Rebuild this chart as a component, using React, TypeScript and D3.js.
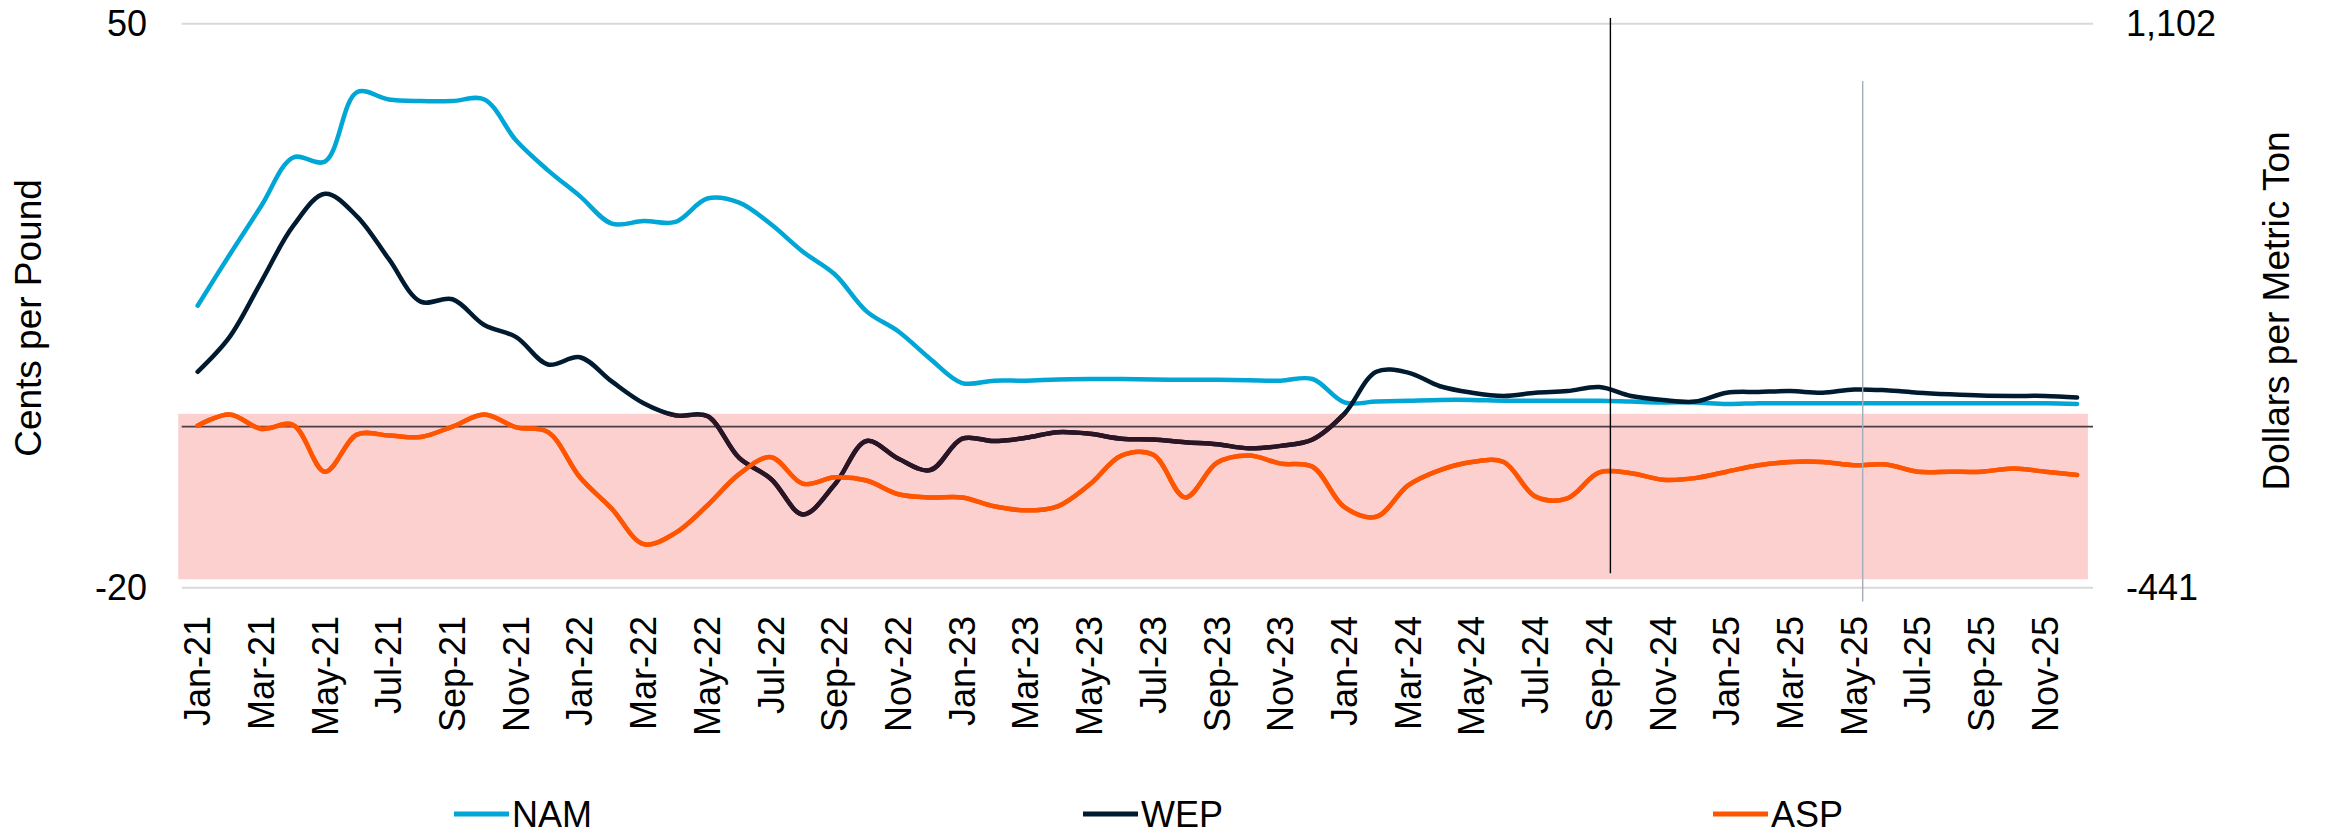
import React from "react";
import * as d3 from "d3";

// ---------- data ----------
const xTickLabels = [
  "Jan-21", "Mar-21", "May-21", "Jul-21", "Sep-21", "Nov-21",
  "Jan-22", "Mar-22", "May-22", "Jul-22", "Sep-22", "Nov-22",
  "Jan-23", "Mar-23", "May-23", "Jul-23", "Sep-23", "Nov-23",
  "Jan-24", "Mar-24", "May-24", "Jul-24", "Sep-24", "Nov-24",
  "Jan-25", "Mar-25", "May-25", "Jul-25", "Sep-25", "Nov-25",
];

// monthly values, Jan-21 .. Dec-25 (cents per pound)
const nam = [
  15.0, 21.3, 27.4, 33.4, 32.9, 41.5, 40.6, 40.4, 40.4, 40.6,
  35.5, 31.8, 28.6, 25.2, 25.5, 25.4, 28.3, 27.8, 25.1, 21.7,
  18.9, 14.3, 11.8, 8.4, 5.4, 5.7, 5.7, 5.85, 5.9, 5.9,
  5.85, 5.8, 5.8, 5.75, 5.7, 5.9, 3.0, 3.1, 3.2, 3.3,
  3.3, 3.2, 3.2, 3.2, 3.2, 3.1, 3.0, 3.0, 2.8, 2.9,
  2.9, 2.9, 2.9, 2.9, 2.9, 2.9, 2.9, 2.9, 2.9, 2.8,
];
const wep = [
  6.8, 11.1, 18.0, 24.9, 28.9, 26.1, 20.8, 15.5, 15.8, 12.6,
  11.1, 7.7, 8.6, 5.6, 2.9, 1.4, 1.3, -3.9, -6.5, -10.9,
  -7.2, -1.8, -4.0, -5.4, -1.5, -1.8, -1.4, -0.7, -0.9, -1.5,
  -1.6, -1.95, -2.2, -2.7, -2.4, -1.6, 1.6, 6.8, 6.7, 5.0,
  4.2, 3.8, 4.2, 4.4, 4.9, 3.8, 3.3, 3.1, 4.2, 4.3,
  4.4, 4.2, 4.6, 4.5, 4.2, 4.0, 3.85, 3.8, 3.8, 3.6,
];
const asp = [
  0.1, 1.5, -0.3, 0.2, -5.6, -1.0, -1.1, -1.3, 0.0, 1.5,
  -0.1, -0.7, -6.3, -10.2, -14.6, -13.2, -9.8, -5.9, -3.8, -7.1,
  -6.3, -6.7, -8.4, -8.8, -8.8, -9.9, -10.4, -9.9, -7.2, -3.6,
  -3.5, -8.8, -4.5, -3.6, -4.6, -5.0, -10.0, -11.2, -7.3, -5.4,
  -4.4, -4.4, -8.7, -8.9, -5.7, -5.8, -6.6, -6.4, -5.6, -4.8,
  -4.4, -4.4, -4.8, -4.7, -5.6, -5.6, -5.6, -5.2, -5.6, -6.0,
];

const leftTicks = [50, -20];
const rightTicks = [1102, -441];

// shaded band (cents per pound) and its month-index extent
const bandRange = [-18.95, 1.58];
const bandMonths = [-0.61, 59.34];

// vertical marker lines: month index, top value, bottom value
const markers = [
  { pos: 44.35, top: 50.7, bottom: -18.2, color: "#000000", width: 1.4 },
  { pos: 52.27, top: 42.9, bottom: -21.7, color: "#A3AEB8", width: 1.4 },
];

const series = [
  { name: "NAM", values: nam, color: "#00A6D6" },
  { name: "WEP", values: wep, color: "#001A30" },
  { name: "ASP", values: asp, color: "#FF5500" },
];

// ---------- layout ----------
const W = 2327;
const H = 835;
const M = { left: 181.7, right: 2093, top: 23.7, bottom: 587.7 };
const FONT = "'Liberation Sans', Arial, Helvetica, sans-serif";

export default function App() {
  const x = d3.scaleLinear().domain([-0.5, nam.length - 0.5]).range([M.left, M.right]);
  const yL = d3.scaleLinear().domain([-20, 50]).range([M.bottom, M.top]);
  const yR = d3.scaleLinear().domain([-441, 1102]).range([M.bottom, M.top]);
  const fmt = (v: number) => d3.format(",")(v).replace("\u2212", "-");

  const lineGen = d3
    .line<number>()
    .x((_, i) => x(i))
    .y((v) => yL(v))
    .curve(d3.curveCatmullRom.alpha(0.5));

  const bandX0 = x(bandMonths[0]);
  const bandX1 = x(bandMonths[1]);
  const bandY0 = yL(bandRange[1]);
  const bandY1 = yL(bandRange[0]);

  const legendX = [454, 1083, 1713];
  const legendY = 814;

  return (
    <svg
      width={W}
      height={H}
      style={{ position: "absolute", left: 0, top: 0, background: "#fff" }}
      fontFamily={FONT}
    >
      <defs>
        <clipPath id="bandClip">
          <rect x={bandX0} y={bandY0} width={bandX1 - bandX0} height={bandY1 - bandY0} />
        </clipPath>
      </defs>

      {/* gridlines */}
      {leftTicks.map((t) => (
        <line key={t} x1={M.left} x2={M.right} y1={yL(t)} y2={yL(t)} stroke="#D9D9D9" strokeWidth={2} />
      ))}

      {/* shaded band */}
      <rect x={bandX0} y={bandY0} width={bandX1 - bandX0} height={bandY1 - bandY0} fill="#FDD0D0" />

      {/* zero line */}
      <line x1={M.left} x2={M.right} y1={yL(0)} y2={yL(0)} stroke="#4A3E44" strokeWidth={1.7} />

      {/* series */}
      {series.map((s) => (
        <path
          key={s.name}
          d={lineGen(s.values) || ""}
          fill="none"
          stroke={s.color}
          strokeWidth={4.5}
          strokeLinecap="round"
          strokeLinejoin="round"
        />
      ))}
      {/* WEP tinted where it crosses the band */}
      <path
        d={lineGen(wep) || ""}
        fill="none"
        stroke="#2B1524"
        strokeWidth={4.5}
        strokeLinecap="round"
        clipPath="url(#bandClip)"
      />
      {/* ASP redrawn on top */}
      <path d={lineGen(asp) || ""} fill="none" stroke="#FF5500" strokeWidth={4.5} strokeLinecap="round" strokeLinejoin="round" />

      {/* marker lines */}
      {markers.map((m, i) => (
        <line
          key={i}
          x1={x(m.pos)}
          x2={x(m.pos)}
          y1={yL(m.top)}
          y2={yL(m.bottom)}
          stroke={m.color}
          strokeWidth={m.width}
        />
      ))}

      {/* left axis ticks */}
      {leftTicks.map((t) => (
        <text key={t} x={147} y={yL(t)} dy="0.35em" textAnchor="end" fontSize={36} fill="#000">
          {fmt(t)}
        </text>
      ))}
      {/* right axis ticks */}
      {rightTicks.map((t) => (
        <text key={t} x={2126} y={yR(t)} dy="0.35em" textAnchor="start" fontSize={36} fill="#000">
          {fmt(t)}
        </text>
      ))}

      {/* x tick labels */}
      {xTickLabels.map((lab, k) => (
        <text
          key={lab}
          transform={`translate(${x(k * 2)},616) rotate(-90)`}
          dy="0.35em"
          textAnchor="end"
          fontSize={36}
          fill="#000"
        >
          {lab}
        </text>
      ))}

      {/* axis titles */}
      <text transform="translate(41,318) rotate(-90)" textAnchor="middle" fontSize={37} fill="#000">
        Cents per Pound
      </text>
      <text transform="translate(2289,311) rotate(-90)" textAnchor="middle" fontSize={37} fill="#000">
        Dollars per Metric Ton
      </text>

      {/* legend */}
      {series.map((s, i) => (
        <g key={s.name} transform={`translate(${legendX[i]},${legendY})`}>
          <line x1={0} x2={55} y1={0} y2={0} stroke={s.color} strokeWidth={5} />
          <text x={58} y={0} dy="0.35em" fontSize={36} fill="#000">
            {s.name}
          </text>
        </g>
      ))}
    </svg>
  );
}
